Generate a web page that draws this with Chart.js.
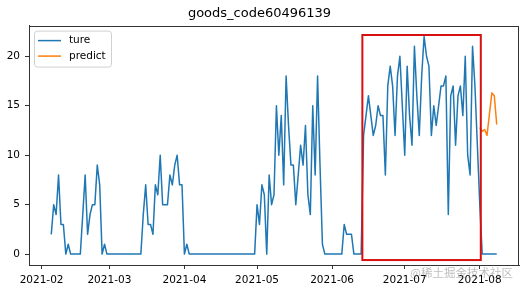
<!DOCTYPE html>
<html lang="en">
<head>
  <meta charset="UTF-8">
  <title>goods_code60496139</title>
  <style>
    html, body {
      margin: 0;
      padding: 0;
      background: #fff;
    }
    #wrap {
      width: 527px;
      height: 291px;
    }
  </style>
</head>
<body>
  <div id="wrap"><canvas id="chart" width="527" height="291"></canvas></div>

  <script src="https://cdn.jsdelivr.net/npm/chart.js"></script>
  <script>
    // chart data
    const chartTitle = 'goods_code60496139';
    const seriesNames = ['ture', 'predict'];

    const trueStart = '2021-02-05';
    const trueValues = [
      2, 5, 4, 8, 3, 3, 0, 1, 0, 0, 0, 0, 0, 4, 8, 2, 4, 5, 5, 9, 7, 0, 1,
      0, 0, 0, 0, 0, 0, 0, 0, 0, 0, 0, 0, 0, 0, 0,
      4, 7, 3, 3, 2, 7, 6, 10, 5, 5, 5, 8, 7, 9, 10, 7, 7, 0, 1,
      0, 0, 0, 0, 0, 0, 0, 0, 0, 0, 0, 0, 0, 0, 0, 0, 0, 0, 0, 0, 0, 0, 0, 0, 0, 0, 0, 0,
      5, 3, 7, 6, 0, 8, 5, 6, 15, 10, 14, 7, 18, 13, 9, 9, 5, 8, 11, 9, 13, 6, 4, 15, 8, 18, 9, 1,
      0, 0, 0, 0, 0, 0, 0, 0,
      3, 2, 2, 2, 0, 0, 0, 0,
      12, 14, 16, 14, 12, 13, 15, 14, 14, 8,
      17, 19, 17, 12, 18, 20, 15, 10, 19, 14,
      11, 21, 16, 12, 18, 22, 20, 19, 12, 15,
      13, 15, 17, 17, 18, 4, 16, 17, 11, 16,
      17, 14, 20, 10, 8, 21, 17, 11, 5,
      0, 0, 0, 0, 0, 0, 0
    ];

    const predictStart = '2021-08-01';
    const predictValues = [12.8, 12.4, 12.6, 12.0, 14.2, 16.3, 16.0, 13.1];

    const monthLabels = ['2021-02', '2021-03', '2021-04', '2021-05', '2021-06', '2021-07', '2021-08'];
    const yTicks = [0, 5, 10, 15, 20];

    // red box drawn over the chart (data units)
    const highlight = { from: '2021-06-13T12', to: '2021-08-01T10', low: -0.6, high: 22.15 };
    const watermark = '@稀土掘金技术社区';

    // days counted from 2021-02-01
    function dayOf(s) {
      const parts = s.split('T');
      const ymd = parts[0].split('-').map(Number);
      const h = parts[1] ? Number(parts[1]) : 0;
      return (Date.UTC(ymd[0], ymd[1] - 1, ymd[2], h) - Date.UTC(2021, 1, 1)) / 86400000;
    }

    const trueFirst = dayOf(trueStart);
    const truePoints = trueValues.map((v, i) => ({ x: trueFirst + i, y: v }));
    const predictFirst = dayOf(predictStart);
    const predictPoints = predictValues.map((v, i) => ({ x: predictFirst + i, y: v }));

    // matplotlib style 5% margins
    const xLo = trueFirst;
    const xHi = Math.max(trueFirst + trueValues.length - 1, predictFirst + predictValues.length - 1);
    const xPad = (xHi - xLo) * 0.05;
    const yLo = Math.min(...trueValues, ...predictValues);
    const yHi = Math.max(...trueValues, ...predictValues);
    const yPad = (yHi - yLo) * 0.05;

    const frameColor = '#333';
    const tickFont = { family: 'DejaVu Sans', size: 10.5 };

    // frame, red box, legend, watermark
    const overlay = {
      id: 'overlay',
      afterDatasetsDraw(chart) {
        const { ctx, chartArea: a, scales } = chart;
        ctx.save();

        // red box
        const x0 = scales.x.getPixelForValue(dayOf(highlight.from));
        const x1 = scales.x.getPixelForValue(dayOf(highlight.to));
        const y0 = scales.y.getPixelForValue(highlight.high);
        const y1 = scales.y.getPixelForValue(highlight.low);
        ctx.strokeStyle = '#d80f0f';
        ctx.lineWidth = 2;
        ctx.strokeRect(x0, y0, x1 - x0, y1 - y0);

        // axes frame
        ctx.strokeStyle = frameColor;
        ctx.lineWidth = 1;
        ctx.strokeRect(Math.round(a.left) + 0.5, Math.round(a.top) + 0.5,
          Math.round(a.right - a.left) - 1, Math.round(a.bottom - a.top));

        // legend
        const lx = a.left + 5, ly = a.top + 5, lw = 77, lh = 36;
        ctx.beginPath();
        ctx.roundRect(lx + 0.5, ly + 0.5, lw, lh, 3);
        ctx.fillStyle = 'rgba(255,255,255,0.8)';
        ctx.fill();
        ctx.strokeStyle = '#d0d0d0';
        ctx.stroke();
        ctx.font = '10.5px "DejaVu Sans"';
        ctx.textBaseline = 'middle';
        ctx.fillStyle = '#000';
        chart.data.datasets.forEach((ds, i) => {
          const yy = ly + 10 + i * 15.5;
          ctx.beginPath();
          ctx.moveTo(lx + 4, yy);
          ctx.lineTo(lx + 27, yy);
          ctx.strokeStyle = ds.borderColor;
          ctx.lineWidth = 1.5;
          ctx.stroke();
          ctx.fillText(ds.label, lx + 35, yy);
        });

        // watermark
        ctx.font = '11.5px "Noto Sans CJK SC"';
        ctx.textAlign = 'right';
        ctx.fillStyle = 'rgba(110,110,110,0.45)';
        ctx.fillText(watermark, 513, 273);
        ctx.restore();
      }
    };

    new Chart(document.getElementById('chart'), {
      type: 'line',
      data: {
        datasets: [
          {
            label: seriesNames[0],
            data: truePoints,
            borderColor: '#1f77b4',
            borderWidth: 1.5,
            pointRadius: 0,
            tension: 0,
            borderJoinStyle: 'round'
          },
          {
            label: seriesNames[1],
            data: predictPoints,
            borderColor: '#ff7f0e',
            borderWidth: 1.5,
            pointRadius: 0,
            tension: 0,
            borderJoinStyle: 'round'
          }
        ]
      },
      options: {
        responsive: false,
        animation: false,
        devicePixelRatio: 1,
        layout: { padding: { left: 0, right: 8, top: 0, bottom: 0 } },
        plugins: {
          legend: { display: false },
          tooltip: { enabled: false },
          title: {
            display: true,
            text: chartTitle,
            color: '#000',
            font: { family: 'DejaVu Sans', size: 13, weight: 'normal' },
            padding: { top: 6, bottom: 4 }
          }
        },
        scales: {
          x: {
            type: 'linear',
            min: xLo - xPad,
            max: xHi + xPad,
            afterBuildTicks: s => { s.ticks = monthLabels.map(m => ({ value: dayOf(m + '-01') })); },
            afterFit: s => { s.height = 26; },
            ticks: {
              callback: (v, i) => monthLabels[i],
              color: '#000',
              font: tickFont,
              padding: 5,
              maxRotation: 0,
              autoSkip: false
            },
            grid: { display: true, drawOnChartArea: false, drawTicks: true, tickLength: 4, color: frameColor },
            border: { display: true, color: frameColor }
          },
          y: {
            type: 'linear',
            min: yLo - yPad,
            max: yHi + yPad,
            afterBuildTicks: s => { s.ticks = yTicks.map(v => ({ value: v })); },
            afterFit: s => { s.width = 29; },
            ticks: {
              callback: v => String(v),
              color: '#000',
              font: tickFont,
              padding: 5
            },
            grid: { display: true, drawOnChartArea: false, drawTicks: true, tickLength: 4, color: frameColor },
            border: { display: true, color: frameColor }
          }
        }
      },
      plugins: [overlay]
    });
  </script>
</body>
</html>
